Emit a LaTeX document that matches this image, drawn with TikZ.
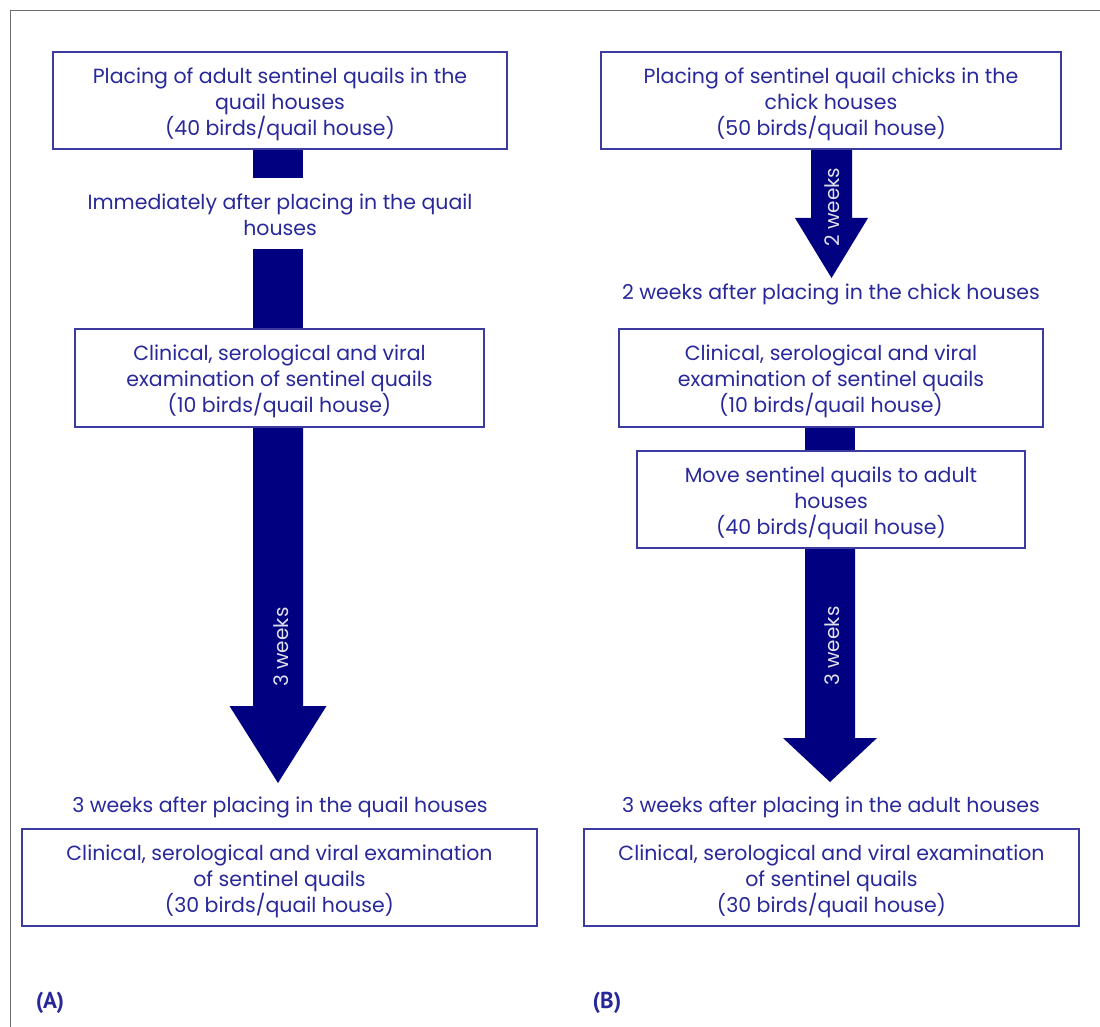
\documentclass[tikz,border=0pt]{standalone}
\usepackage{fontspec}
\setmainfont{Poppins}
\newfontfamily\labfont{PT Sans}
\usetikzlibrary{calc}
\definecolor{txtblue}{RGB}{40,40,155}
\definecolor{boxblue}{RGB}{60,60,160}
\definecolor{navyfill}{RGB}{0,0,128}
\definecolor{framegray}{RGB}{110,110,110}
\definecolor{weektxt}{RGB}{225,225,235}
\newcommand{\boxtext}[2]{\raisebox{-3.5pt}[\height][\depth]{\parbox{#1}{\centering #2}}}
\tikzset{
  flowbox/.style={draw=boxblue, line width=1.1pt, fill=white, text=txtblue, align=center,
    inner sep=0pt, font=\fontsize{20.5}{26}\selectfont},
  plaintxt/.style={text=txtblue, align=center, inner sep=0pt, font=\fontsize{20.5}{26}\selectfont},
  weeklabel/.style={text=weektxt, rotate=90, inner sep=0pt, font=\fontsize{20}{22}\selectfont},
  panellabel/.style={text=txtblue, inner sep=0pt, font=\labfont\fontsize{23}{25}\selectfont\bfseries},
  arrowfill/.style={fill=navyfill},
}
\begin{document}
\begin{tikzpicture}[x=1pt,y=-1pt]
\useasboundingbox (0,0) rectangle (1100,1027);
% frame
\draw[framegray, line width=1pt] (10.5,1027) -- (10.5,11) -- (1100,11);

% ---------- (A) ----------
\node[flowbox, minimum width=454pt, minimum height=97pt] (a1) at (280,100.5)
  {\boxtext{454pt}{Placing of adult sentinel quails in the\\quail houses\\(40 birds/quail house)}};
\node[plaintxt] (t1) at (280,215) {Immediately after placing in the quail\\houses};
\coordinate (t1n) at (278,178);
\coordinate (t1s) at (278,249);
\node[flowbox, minimum width=409pt, minimum height=98pt] (a2) at (279.5,378)
  {\boxtext{409pt}{Clinical, serological and viral\\examination of sentinel quails\\(10 birds/quail house)}};
\coordinate (tipA) at (278,783);
\node[plaintxt] (t2) at (280,807) {3 weeks after placing in the quail houses};
\node[flowbox, minimum width=515pt, minimum height=97pt] (a3) at (279.5,877.5)
  {\boxtext{515pt}{Clinical, serological and viral examination\\of sentinel quails\\(30 birds/quail house)}};
\node[panellabel] (labA) at (50,1003) {(A)};

% bars and arrow (A)
\fill[arrowfill] ($(a1.south -| t1n)+(-25,0)$) rectangle ($(t1n)+(25,0)$);
\fill[arrowfill] ($(t1s)+(-25,0)$) rectangle ($(a2.north -| t1s)+(25,0)$);
\fill[arrowfill] ($(a2.south -| tipA)+(-25,0)$) -- ($(a2.south -| tipA)+(25,0)$)
  -- ($(tipA)+(25,-77)$) -- ($(tipA)+(48.5,-77)$) -- (tipA)
  -- ($(tipA)+(-48.5,-77)$) -- ($(tipA)+(-25,-77)$) -- cycle;
\node[weeklabel] (wA) at (281,647) {3 weeks};

% ---------- (B) ----------
\node[flowbox, minimum width=460pt, minimum height=97pt] (b1) at (831,100.5)
  {\boxtext{460pt}{Placing of sentinel quail chicks in the\\chick houses\\(50 birds/quail house)}};
\coordinate (tipB1) at (831.5,278);
\node[plaintxt] (t3) at (831,294) {2 weeks after placing in the chick houses};
\node[flowbox, minimum width=424pt, minimum height=98pt] (b2) at (831,378)
  {\boxtext{424pt}{Clinical, serological and viral\\examination of sentinel quails\\(10 birds/quail house)}};
\coordinate (barB) at (830,440);
\node[flowbox, minimum width=388pt, minimum height=97pt] (b3) at (831,499.5)
  {\boxtext{388pt}{Move sentinel quails to adult\\houses\\(40 birds/quail house)}};
\coordinate (tipB2) at (830,782);
\node[plaintxt] (t4) at (831,807) {3 weeks after placing in the adult houses};
\node[flowbox, minimum width=495pt, minimum height=97pt] (b4) at (831.5,877.5)
  {\boxtext{495pt}{Clinical, serological and viral examination\\of sentinel quails\\(30 birds/quail house)}};
\node[panellabel] (labB) at (607,1003) {(B)};

% arrows (B)
\fill[arrowfill] ($(b1.south -| tipB1)+(-20.5,0)$) -- ($(b1.south -| tipB1)+(20.5,0)$)
  -- ($(tipB1)+(20.5,-60)$) -- ($(tipB1)+(36.5,-60)$) -- (tipB1)
  -- ($(tipB1)+(-36.5,-60)$) -- ($(tipB1)+(-20.5,-60)$) -- cycle;
\node[weeklabel] (wB1) at (832,207) {2 weeks};
\fill[arrowfill] ($(b2.south -| barB)+(-25,0)$) rectangle ($(b3.north -| barB)+(25,0)$);
\fill[arrowfill] ($(b3.south -| tipB2)+(-25,0)$) -- ($(b3.south -| tipB2)+(25,0)$)
  -- ($(tipB2)+(25,-44)$) -- ($(tipB2)+(47,-44)$) -- (tipB2)
  -- ($(tipB2)+(-47,-44)$) -- ($(tipB2)+(-25,-44)$) -- cycle;
\node[weeklabel] (wB2) at (832,646) {3 weeks};
% redraw box borders over bars
\draw[boxblue, line width=1.1pt] (a1.south west) rectangle (a1.north east);
\draw[boxblue, line width=1.1pt] (a2.south west) rectangle (a2.north east);
\draw[boxblue, line width=1.1pt] (b1.south west) rectangle (b1.north east);
\draw[boxblue, line width=1.1pt] (b2.south west) rectangle (b2.north east);
\draw[boxblue, line width=1.1pt] (b3.south west) rectangle (b3.north east);
\end{tikzpicture}
\end{document}
